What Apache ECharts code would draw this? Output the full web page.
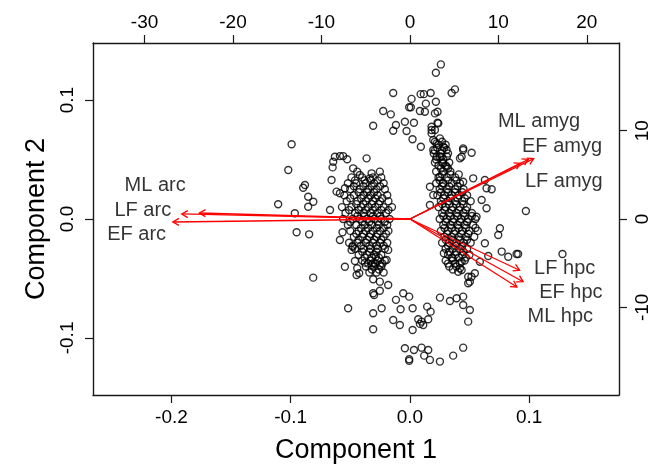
<!DOCTYPE html>
<html>
<head>
<meta charset="utf-8">
<script src="https://cdn.jsdelivr.net/npm/echarts@6/dist/echarts.min.js"></script>
<style>html,body{margin:0;padding:0;background:#fff}#c{width:666px;height:469px}</style>
</head>
<body>
<div id="c"></div>
<script>
// ---- Tick labels ----
var bottomTicks = [-0.2, -0.1, 0.0, 0.1];
var leftTicks = [-0.1, 0.0, 0.1];
var topTicks = [-30, -20, -10, 0, 10, 20];
var rightTicks = [-10, 0, 10];

// ---- Scores (Component 1, Component 2) ----
var topScatter = [[0.026,0.130],[0.0218,0.123],[-0.014,0.106],[0.0014,0.101],[0.009,0.105],[0.0117,0.105],[0.0174,0.106],[0.035,0.106],[0.0378,0.109],[-0.0006,0.094],[0.0008,0.094],[0.0134,0.097],[0.0218,0.0986],[-0.0224,0.0908],[-0.016,0.088],[0.0084,0.0908],[0.0232,0.0902],[-0.0308,0.0784],[-0.0117,0.079],[-0.014,0.0742],[-0.0042,0.0818],[0.0034,0.081],[-0.0028,0.074],[0.0232,0.081],[0.0182,0.0748],[0.0022,0.067],[0.0092,0.0608],[0.0126,0.0902],[0.021,0.0888],[0.0238,0.0804],[0.0182,0.072]];
var leftScatter = [[-0.0992,0.0628],[-0.102,0.0412],[-0.088,0.0286],[-0.0895,0.0263],[-0.0853,0.0187],[-0.081,0.0145],[-0.0853,0.0103],[-0.1105,0.0124],[-0.0965,0.0048],[-0.067,0.0076],[-0.0657,0.0328],[-0.095,-0.0112],[-0.0845,-0.0129],[-0.0811,-0.0493],[-0.0518,-0.075]];
var leftEdge = [[-0.0629,0.0524],[-0.0587,0.0529],[-0.056,0.0529],[-0.0526,0.0502],[-0.0643,0.0482],[-0.0648,0.0434],[-0.0363,0.051],[-0.0476,0.0426],[-0.0442,0.0398],[-0.042,0.037],[-0.0321,0.0384],[-0.0252,0.0398],[-0.0336,0.0342],[-0.0615,0.023],[-0.0587,0.0216],[-0.0545,0.0258],[-0.0587,-0.0176],[-0.0565,-0.0112],[-0.0489,-0.026],[-0.048,-0.0233],[-0.0545,-0.0401],[-0.0461,-0.0353],[-0.0378,-0.0367],[-0.0442,-0.0414],[-0.0425,-0.0456],[-0.0447,-0.0471],[-0.0308,-0.0372],[-0.0285,-0.0317],[-0.0321,-0.0387],[-0.0252,-0.0387],[-0.0195,-0.0345],[-0.0182,-0.026],[-0.0308,-0.0507],[-0.0252,-0.0527],[-0.0182,-0.0555],[-0.0308,-0.0624],[-0.03,-0.0639],[-0.0252,-0.0603]];
var bottomScatter = [[-0.0308,-0.0792],[-0.0237,-0.075],[-0.0308,-0.0927],[-0.014,-0.0849],[-0.0084,-0.0891],[-0.0117,-0.068],[-0.0056,-0.0624],[-0.0006,-0.0653],[-0.0078,-0.0759],[0.0023,-0.075],[0.0023,-0.0933],[0.007,-0.0843],[0.0098,-0.0863],[0.0112,-0.0891],[0.0084,-0.0882],[0.0154,-0.0843],[0.0145,-0.0737],[0.0174,-0.0779],[0.0252,-0.0661],[0.0336,-0.0689],[0.0392,-0.0666],[0.0447,-0.0653],[0.0447,-0.0723],[0.0489,-0.0863],[0.0503,-0.0765],[-0.0042,-0.1087],[0.0034,-0.1101],[0.0098,-0.1082],[0.0154,-0.1101],[0.012,-0.1149],[0.0168,-0.1185],[0.0252,-0.1199],[-0.0006,-0.1179],[-0.0006,-0.1193],[0.0363,-0.1149],[0.0447,-0.1082]];
var rightEdge = [[0.0196,0.0664],[0.0224,0.0636],[0.0252,0.0678],[0.0279,0.0608],[0.0308,0.058],[0.0266,0.0524],[0.0279,0.0468],[0.0308,0.044],[0.0196,0.058],[0.0224,0.0524],[0.0447,0.0594],[0.042,0.051],[0.0434,0.0524],[0.0168,0.0271],[0.0196,0.0202],[0.0252,0.0355],[0.0279,0.03],[0.0447,0.0313],[0.0285,-0.0288],[0.0358,-0.033],[0.0434,-0.0359],[0.042,-0.0414],[0.0405,-0.0443],[0.0489,-0.0485],[0.0489,-0.054],[0.0447,0.058],[0.0518,0.0557],[0.0531,0.0342],[0.0629,0.0328],[0.0686,0.025],[0.0643,0.0258],[0.0602,0.016],[0.0643,0.009],[0.0559,0.0019],[0.0755,-0.0078],[0.0741,-0.0134],[0.0629,-0.0204],[0.0657,-0.0311],[0.0587,-0.0359],[0.0545,-0.0456],[0.0503,-0.0527],[0.0517,-0.0485],[0.0419,-0.0372],[0.0434,-0.0429],[0.077,-0.0274],[0.0825,-0.0317],[0.0895,-0.0294],[0.0908,-0.0294],[0.0973,0.0067],[0.128,-0.0294],[0.0168,0.0118],[0.0182,0.0776],[0.021,0.0748]];
// dense cores: rows of [y, [x values]]
var leftCoreRows = [
 [0.035,[-0.049,-0.040,-0.031,-0.024]],
 [0.0325,[-0.046,-0.038,-0.033,-0.027]],
 [0.030,[-0.052,-0.045,-0.037,-0.030,-0.022]],
 [0.0275,[-0.047,-0.039,-0.032,-0.025]],
 [0.025,[-0.050,-0.042,-0.035,-0.028,-0.021]],
 [0.0225,[-0.043,-0.036,-0.030]],
 [0.020,[-0.055,-0.047,-0.039,-0.033,-0.027,-0.019]],
 [0.0175,[-0.050,-0.041,-0.035,-0.029,-0.023]],
 [0.015,[-0.053,-0.044,-0.037,-0.031,-0.025,-0.018]],
 [0.0125,[-0.045,-0.039,-0.032,-0.026]],
 [0.010,[-0.057,-0.049,-0.041,-0.035,-0.029,-0.022,-0.015]],
 [0.0075,[-0.051,-0.043,-0.037,-0.031,-0.024,-0.018]],
 [0.005,[-0.054,-0.046,-0.039,-0.033,-0.027,-0.020]],
 [0.0025,[-0.044,-0.038,-0.031,-0.025]],
 [0.000,[-0.056,-0.048,-0.042,-0.036,-0.030,-0.024,-0.017]],
 [-0.0025,[-0.050,-0.040,-0.034,-0.027,-0.021]],
 [-0.005,[-0.052,-0.045,-0.038,-0.032,-0.026,-0.019]],
 [-0.0075,[-0.041,-0.035,-0.028,-0.022]],
 [-0.010,[-0.050,-0.043,-0.037,-0.031,-0.025,-0.018]],
 [-0.0125,[-0.045,-0.039,-0.033,-0.027,-0.020]],
 [-0.015,[-0.047,-0.040,-0.034,-0.028,-0.022]],
 [-0.0175,[-0.043,-0.036,-0.030,-0.024]],
 [-0.020,[-0.051,-0.044,-0.037,-0.031,-0.025,-0.019]],
 [-0.0225,[-0.048,-0.041,-0.034,-0.028,-0.022]],
 [-0.025,[-0.046,-0.039,-0.033,-0.027,-0.021]],
 [-0.0275,[-0.040,-0.034,-0.028]],
 [-0.030,[-0.043,-0.036,-0.030,-0.024]],
 [-0.0325,[-0.038,-0.032,-0.026]],
 [-0.035,[-0.040,-0.033,-0.027,-0.021]],
 [-0.0375,[-0.035,-0.029,-0.023]],
 [-0.040,[-0.037,-0.030,-0.024]],
 [-0.0425,[-0.032,-0.026]],
 [-0.045,[-0.034,-0.028,-0.022]]
];
var rightCoreRows = [
 [0.065,[0.021,0.027]],
 [0.0625,[0.024,0.030]],
 [0.060,[0.023,0.029]],
 [0.0575,[0.021,0.027]],
 [0.055,[0.020,0.026,0.032]],
 [0.0525,[0.025,0.031]],
 [0.050,[0.022,0.028]],
 [0.0475,[0.021,0.027,0.033]],
 [0.045,[0.024,0.030]],
 [0.0425,[0.026,0.032]],
 [0.040,[0.022,0.028,0.034]],
 [0.0375,[0.027,0.034,0.041]],
 [0.035,[0.024,0.031,0.038]],
 [0.0325,[0.025,0.032,0.039]],
 [0.030,[0.022,0.028,0.035,0.042]],
 [0.0275,[0.027,0.033,0.040]],
 [0.025,[0.025,0.031,0.038,0.045]],
 [0.0225,[0.026,0.032,0.038,0.044]],
 [0.020,[0.023,0.029,0.035,0.041,0.048]],
 [0.0175,[0.028,0.034,0.040,0.046]],
 [0.015,[0.026,0.032,0.038,0.044,0.051]],
 [0.0125,[0.027,0.033,0.039,0.045]],
 [0.010,[0.024,0.030,0.036,0.042,0.048]],
 [0.0075,[0.029,0.035,0.041,0.047]],
 [0.005,[0.027,0.033,0.039,0.045,0.052]],
 [0.0025,[0.028,0.034,0.040,0.046,0.052]],
 [0.000,[0.025,0.031,0.037,0.043,0.049,0.055]],
 [-0.0025,[0.030,0.036,0.042,0.048]],
 [-0.005,[0.028,0.034,0.040,0.046,0.053]],
 [-0.0075,[0.029,0.035,0.041,0.047,0.055]],
 [-0.010,[0.026,0.032,0.038,0.044,0.050,0.057]],
 [-0.0125,[0.031,0.037,0.043,0.049]],
 [-0.015,[0.029,0.035,0.041,0.047,0.054]],
 [-0.0175,[0.030,0.036,0.042,0.048]],
 [-0.020,[0.027,0.033,0.039,0.045,0.051]],
 [-0.0225,[0.032,0.038,0.044]],
 [-0.025,[0.030,0.036,0.042,0.048]],
 [-0.0275,[0.033,0.039,0.045]],
 [-0.030,[0.032,0.038,0.044,0.050]],
 [-0.0325,[0.035,0.041,0.047]],
 [-0.035,[0.030,0.036,0.046]],
 [-0.0375,[0.032,0.038]],
 [-0.040,[0.033,0.039]],
 [-0.0425,[0.036]]
];

// ---- Loadings (top/right axis units) ----
var varNames = ['ML arc','LF arc','EF arc','ML amyg','EF amyg','LF amyg','LF hpc','EF hpc','ML hpc'];
var arrowX = [-23.8,-25.8,-26.8,13.4,14.0,12.5,12.4,12.8,12.1];
var arrowY = [0.68,0.57,-0.34,6.76,6.83,6.3,-5.8,-7.1,-7.7];
var labelX = [-28.8,-30.2,-30.9,14.6,17.2,17.4,17.5,18.2,17.0];
var labelY = [3.85,1.02,-1.76,11.0,8.2,4.3,-5.6,-8.3,-11.0];

// ---- build ----
function rowsToPoints(rows){var out=[];rows.forEach(function(r){r[1].forEach(function(x){out.push([x,r[0]]);});});return out;}
var scores = [].concat(topScatter,leftScatter,leftEdge,bottomScatter,rightEdge,rowsToPoints(leftCoreRows),rowsToPoints(rightCoreRows));
var arrows = varNames.map(function(n,i){return [arrowX[i],arrowY[i]];});
var labels = varNames.map(function(n,i){return {name:n,value:[labelX[i],labelY[i]]};});

var FONT = '"Liberation Sans", Arial, sans-serif';
var axisCol = '#1a1a1a';
function fmt1(v){return (Math.abs(v)<1e-9?0:v).toFixed(1);}
function axisCommon(ticks, fmt, margin, rotate){
  return {
    axisLine:{show:true,onZero:false,lineStyle:{color:axisCol,width:1.4}},
    axisTick:{show:true,length:8,customValues:ticks,lineStyle:{color:axisCol,width:1.2}},
    axisLabel:{customValues:ticks,formatter:fmt,fontSize:19,color:'#000',fontFamily:FONT,margin:margin,rotate:rotate||0},
    splitLine:{show:false}
  };
}
var xb = Object.assign({type:'value',position:'bottom',min:-0.2658,max:0.1754,name:'Component 1',nameLocation:'middle',nameGap:42,
  nameTextStyle:{fontSize:27,color:'#000',fontFamily:FONT}}, axisCommon(bottomTicks,fmt1,13));
var xt = Object.assign({type:'value',position:'top',min:-35.83,max:23.64}, axisCommon(topTicks,function(v){return String(v);},11));
var yl = Object.assign({type:'value',position:'left',min:-0.148,max:0.148,name:'Component 2',nameLocation:'middle',nameGap:42,
  nameTextStyle:{fontSize:27,color:'#000',fontFamily:FONT}}, axisCommon(leftTicks,fmt1,16,90));
var yr = Object.assign({type:'value',position:'right',min:-19.93,max:19.93}, axisCommon(rightTicks,function(v){return String(v);},14,90));

var chart = echarts.init(document.getElementById('c'),null,{renderer:'canvas'});
chart.setOption({
  animation:false,
  backgroundColor:'#fff',
  grid:{left:93,right:47,top:43,bottom:74,containLabel:false},
  xAxis:[xb,xt],
  yAxis:[yl,yr],
  series:[
    {type:'scatter',xAxisIndex:0,yAxisIndex:0,data:scores,symbol:'circle',symbolSize:7,
     itemStyle:{color:'rgba(0,0,0,0)',borderColor:'#000',borderWidth:1.4},z:2},
    {type:'custom',xAxisIndex:1,yAxisIndex:1,data:arrows,z:3,
     renderItem:function(params,api){
       var p0=api.coord([0,0]);var p1=api.coord([api.value(0),api.value(1)]);
       var a=Math.atan2(p1[1]-p0[1],p1[0]-p0[0]);var L=7,h=Math.PI/6;
       var h1=[p1[0]-L*Math.cos(a-h),p1[1]-L*Math.sin(a-h)];
       var h2=[p1[0]-L*Math.cos(a+h),p1[1]-L*Math.sin(a+h)];
       var st={stroke:'#ff0000',lineWidth:1.3,fill:null};
       return {type:'group',children:[
         {type:'line',shape:{x1:p0[0],y1:p0[1],x2:p1[0],y2:p1[1]},style:st},
         {type:'polyline',shape:{points:[h1,p1,h2]},style:st}
       ]};
     }},
    {type:'scatter',xAxisIndex:1,yAxisIndex:1,data:labels,symbolSize:0,z:4,
     label:{show:true,position:'inside',formatter:function(p){return p.name;},fontSize:20,color:'#000',fontFamily:FONT}}
  ]
});
</script>
</body>
</html>
